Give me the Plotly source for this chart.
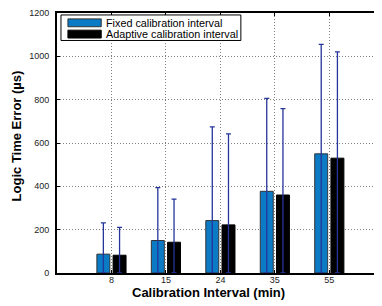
import plotly.graph_objects as go

categories = ["8", "15", "24", "35", "55"]
fixed_vals = [87, 150, 242, 377, 550]
fixed_err = [144, 244, 432, 429, 505]
adaptive_vals = [82, 142, 222, 360, 530]
adaptive_err = [129, 199, 420, 399, 491]
series_names = ["Fixed calibration interval", "Adaptive calibration interval"]
y_ticks = [0, 200, 400, 600, 800, 1000, 1200]
x_title = "Calibration Interval (min)"
y_title = "Logic Time Error (µs)"

# the page has an 8px body margin, so the figure is laid out in page pixels
OFF = 8
W, H = 382 - OFF, 306 - OFF
PL, PT, PB, PR = 57, 8, 273, 382          # plot box in page pixels
ML, MT, MB, MR = PL - OFF, PT - OFF, 306 - PB, 382 - PR
PW, PH = PR - PL, PB - PT

def px(xp):
    return (xp - PL) / PW

def py(yp):
    return (PB - yp) / PH

xs = list(range(1, len(categories) + 1))
FONT = "Liberation Sans, Arial, Helvetica, sans-serif"
err_color = "#26359a"
grid_color = "#808080"

fig = go.Figure()
fig.add_trace(go.Bar(
    x=xs, y=fixed_vals, name=series_names[0],
    marker=dict(color="#0b7bc6", line=dict(color="#333333", width=1)),
    error_y=dict(type="data", array=fixed_err, arrayminus=fixed_vals, symmetric=False,
                 color=err_color, thickness=1.3, width=2.5),
    showlegend=False,
))
fig.add_trace(go.Bar(
    x=xs, y=adaptive_vals, name=series_names[1],
    marker=dict(color="#000000", line=dict(color="#000000", width=1)),
    error_y=dict(type="data", array=adaptive_err, arrayminus=adaptive_vals, symmetric=False,
                 color=err_color, thickness=1.3, width=2.5),
    showlegend=False,
))

# manual legend (MATLAB style, wide patches)
shapes = [
    dict(type="rect", xref="paper", yref="paper",
         x0=px(61), x1=px(242), y0=py(36), y1=py(10),
         line=dict(color="black", width=1), fillcolor="white", layer="above"),
    dict(type="rect", xref="paper", yref="paper",
         x0=px(68), x1=px(101.5), y0=py(22), y1=py(14),
         line=dict(color="#333333", width=1), fillcolor="#0b7bc6", layer="above"),
    dict(type="rect", xref="paper", yref="paper",
         x0=px(68), x1=px(101.5), y0=py(33.5), y1=py(25.5),
         line=dict(color="black", width=1), fillcolor="black", layer="above"),
]
annotations = [
    dict(text=series_names[0], xref="paper", yref="paper", x=px(104), y=py(18),
         xanchor="left", yanchor="middle", showarrow=False,
         font=dict(family=FONT, size=10.8, color="black")),
    dict(text=series_names[1], xref="paper", yref="paper", x=px(104), y=py(29.5),
         xanchor="left", yanchor="middle", showarrow=False,
         font=dict(family=FONT, size=10.8, color="black")),
    dict(text="<b>" + x_title + "</b>", xref="paper", yref="paper", x=px(209), y=py(292.5),
         xanchor="center", yanchor="middle", showarrow=False,
         font=dict(family=FONT, size=13, color="black")),
    dict(text="<b>" + y_title + "</b>", xref="paper", yref="paper", x=px(16), y=py(133.5),
         xanchor="center", yanchor="middle", showarrow=False, textangle=-90,
         font=dict(family=FONT, size=13, color="black")),
]

fig.update_layout(
    width=W, height=H,
    margin=dict(l=ML, r=MR, t=MT, b=MB),
    paper_bgcolor="white", plot_bgcolor="white",
    barmode="group", bargap=0.405, bargroupgap=0.2,
    font=dict(family=FONT, size=9, color="#222222"),
    shapes=shapes, annotations=annotations,
    showlegend=False,
)
fig.update_xaxes(
    range=[0, PW / 54.8], tickvals=xs, ticktext=categories,
    showgrid=True, gridcolor=grid_color, griddash="1px,2px", gridwidth=1,
    showline=True, linecolor="black", linewidth=2, mirror="ticks",
    ticks="inside", ticklen=3, tickcolor="black", zeroline=False,
    ticklabelstandoff=-3,
    tickfont=dict(family=FONT, size=9, color="#222222"),
)
fig.update_yaxes(
    range=[0, 1200], tickvals=y_ticks,
    showgrid=True, gridcolor=grid_color, griddash="1px,2px", gridwidth=1,
    showline=True, linecolor="black", linewidth=2, mirror="ticks",
    ticks="inside", ticklen=3, tickcolor="black", zeroline=False,
    ticklabelstandoff=4, ticklabeloverflow="allow",
    tickfont=dict(family=FONT, size=9, color="#222222"),
)

fig.write_html("out.html")
